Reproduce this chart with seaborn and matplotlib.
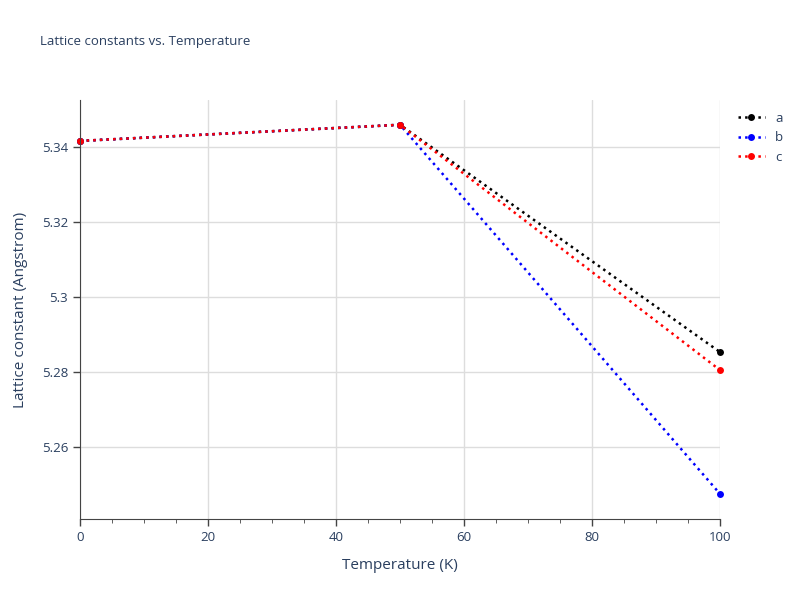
import pandas as pd
import numpy as np
import matplotlib.pyplot as plt
import seaborn as sns

temperature = [0, 50, 100]
lat_a = [5.3416, 5.3459, 5.2853]
lat_b = [5.3416, 5.3459, 5.2475]
lat_c = [5.3416, 5.3459, 5.2805]

df = pd.DataFrame({"T": temperature * 3,
                   "val": lat_a + lat_b + lat_c,
                   "series": ["a"] * 3 + ["b"] * 3 + ["c"] * 3})

sns.set_style("white")
plt.rcParams['font.family'] = ['Open Sans', 'DejaVu Sans']

fig = plt.figure(figsize=(8, 6), dpi=100)
ax = fig.add_axes([0.1, 0.135, 0.8, 0.6983])

colors = {"a": "black", "b": "blue", "c": "red"}
for name in ["a", "b", "c"]:
    d = df[df.series == name]
    sns.lineplot(data=d, x="T", y="val", ax=ax, color=colors[name], linestyle=":",
                 linewidth=1.8, marker="o", markersize=5, markeredgewidth=0, label=name,
                 clip_on=False)

ax.set_xlim(0, 100)
ax.set_ylim(5.2408, 5.3525)
ax.set_xticks([0, 20, 40, 60, 80, 100])
ax.set_xticks(np.arange(0, 101, 5), minor=True)
ax.set_yticks([5.26, 5.28, 5.30, 5.32, 5.34])
ax.set_yticklabels(["5.26", "5.28", "5.3", "5.32", "5.34"])
ax.grid(True, color="#dddddd", linewidth=1)
ax.set_axisbelow(True)
for s in ["top", "right"]:
    ax.spines[s].set_visible(False)
for s in ["left", "bottom"]:
    ax.spines[s].set_color("#444444")
ax.tick_params(axis="both", colors="#444444", labelcolor="#2a3f5f", labelsize=9.5,
               direction="out", length=5, width=1, left=True, bottom=True)
ax.tick_params(axis="x", which="minor", direction="out", length=3, color="#444444", bottom=True)

ax.set_xlabel("Temperature (K)", color="#2a3f5f", fontsize=11, labelpad=10)
ax.set_ylabel("Lattice constant (Angstrom)", color="#2a3f5f", fontsize=11, labelpad=10)
fig.text(0.05, 0.925, "Lattice constants vs. Temperature", color="#2a3f5f", fontsize=9.5)

leg = ax.legend(loc="upper left", bbox_to_anchor=(1.01, 1.0), frameon=False,
                fontsize=9.5, handlelength=2, labelcolor="#2a3f5f")

fig.savefig("out.png", dpi=100)
